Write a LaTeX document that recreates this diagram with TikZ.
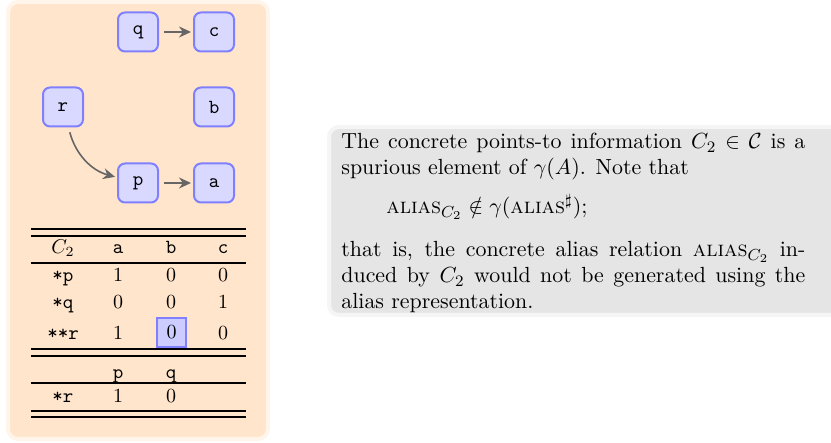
\documentclass[tikz,border=0pt]{standalone}
\usepackage{amsmath,amssymb}
\usetikzlibrary{arrows.meta,positioning}

\tikzset{
  ptnode/.style={draw=blue!50, fill=blue!15, line width=1pt, rounded corners=3.5pt,
    minimum width=20pt, minimum height=19.5pt, inner sep=0pt, font=\ttfamily},
  ptedge/.style={-{Stealth[length=6pt,width=5.5pt]}, black!60, thick,
    shorten >=1pt, shorten <=2.5pt},
  cellmark/.style={draw=blue!50, fill=blue!20, line width=0.8pt,
    minimum size=14.5pt, inner sep=0pt},
  heavyrule/.style={line width=1.3pt},
  lightrule/.style={line width=0.9pt},
}

\begin{document}
\begin{tikzpicture}[x=0.5pt,y=0.5pt]
  \useasboundingbox (0,0) rectangle (831,443);
  % backgrounds
  \draw[orange!8, line width=2pt, fill=orange!20, rounded corners=5pt] (8,441) rectangle (268,4);
  \draw[gray!8, line width=2pt, fill=gray!20, rounded corners=5pt] (329,316) rectangle (850,128);

  % points-to graph of C_2
  \node[ptnode] (q) at (138,411) {q};
  \node[ptnode] (c) at (214,411) {c};
  \node[ptnode] (r) at (63,336) {r};
  \node[ptnode] (b) at (214,336) {b};
  \node[ptnode] (p) at (138,260) {p};
  \node[ptnode] (a) at (214,260) {a};
  \draw[ptedge] (q) -- (c);
  \draw[ptedge] (p) -- (a);
  \draw[ptedge] (r) to[out=-75,in=165] (p);

  % table of C_2
  \draw[heavyrule] (31,214) -- (246,214);
  \draw[lightrule] (31,207) -- (246,207);
  \draw[lightrule] (31,180) -- (246,180);
  \draw[heavyrule] (31,94) -- (246,94);
  \draw[lightrule] (31,87) -- (246,87);
  \draw[lightrule] (31,60) -- (246,60);
  \draw[lightrule] (31,32) -- (246,32);
  \draw[lightrule] (31,26) -- (246,26);
  \node[anchor=base] (hC) at (63,189) {$C_2$};
  \foreach \col/\xx in {a/118,b/171,c/223}
    \node[anchor=base, font=\ttfamily] (h\col) at (\xx,189) {\col};
  \foreach \row/\lbl/\va/\vb/\vc/\yy in {p/*p/1/0/0/161, q/*q/0/0/1/134} {
    \node[anchor=base, font=\ttfamily] (\row) at (63,\yy) {\lbl};
    \node[anchor=base] (\row-a) at (118,\yy) {\va};
    \node[anchor=base] (\row-b) at (171,\yy) {\vb};
    \node[anchor=base] (\row-c) at (223,\yy) {\vc};
  }
  \node[anchor=base, font=\ttfamily] (rr) at (63,103) {**r};
  \node[anchor=base] (rr-a) at (118,103) {1};
  \node[cellmark] (rr-b) at (171.5,110.5) {0};
  \node[anchor=base] (rr-c) at (223,103) {0};
  \node[anchor=base, font=\ttfamily] (hp) at (118,64) {p};
  \node[anchor=base, font=\ttfamily] (hq) at (171,64) {q};
  \node[anchor=base, font=\ttfamily] (sr) at (63,40) {*r};
  \node[anchor=base] (sr-p) at (118,40) {1};
  \node[anchor=base] (sr-q) at (171,40) {0};

  % explanation
  \node[anchor=north west, text width=232pt, align=justify, inner sep=0pt,
    font=\fontsize{10.95}{13}\selectfont] (note) at (341,310) {%
    The concrete points-to information $C_2 \in \mathcal{C}$ is a\linebreak
    spurious element of $\gamma(A)$. Note that\par\vspace{6.5pt}
    \hspace*{22.5pt}$\textsc{alias}_{C_2} \notin \gamma(\textsc{alias}^\sharp)$;\par\vspace{8.5pt}
    that is, the concrete alias relation $\textsc{alias}_{C_2}$ in-\linebreak
    duced by $C_2$ would not be generated using the\linebreak
    alias representation.};
\end{tikzpicture}
\end{document}
